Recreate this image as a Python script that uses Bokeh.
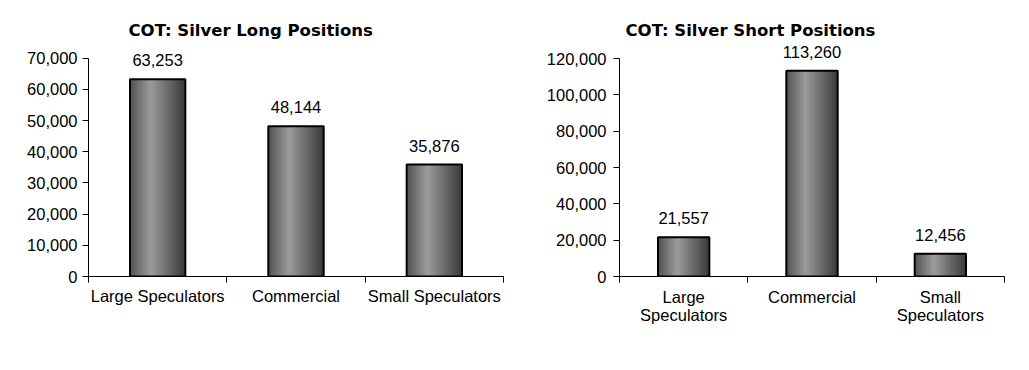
from bokeh.plotting import figure
from bokeh.layouts import row
from bokeh.models import (ColumnDataSource, Range1d, FixedTicker, SingleIntervalTicker,
                          NumeralTickFormatter, LinearAxis, LabelSet, Label)
from bokeh.core.properties import value
from bokeh.embed import file_html
from bokeh.resources import INLINE

# ---- data ----
long_categories = ["Large Speculators", "Commercial", "Small Speculators"]
long_values = [63253, 48144, 35876]

short_categories = ["Large\nSpeculators", "Commercial", "Small\nSpeculators"]
short_values = [21557, 113260, 12456]

long_title = "COT: Silver Long Positions"
short_title = "COT: Silver Short  Positions"

FONT = "Liberation Sans"
FS = "16.5px"
BAR_W = 0.4
N_STRIPS = 40

# layout (pixels inside each figure)
H = 350
FRAME_TOP = 20       # top of drawing frame (leaves room for title / labels)
AXIS_TOP = 58        # pixel row of the top y tick
TITLE_Y = 30


def shade(t):
    # horizontal cylinder-like gradient: dark edges, light left-of-centre
    pts = [(0.0, 0x50), (0.38, 0x9c), (1.0, 0x3a)]
    for (t0, c0), (t1, c1) in zip(pts[:-1], pts[1:]):
        if t <= t1:
            c = c0 + (c1 - c0) * (t - t0) / (t1 - t0)
            break
    c = int(round(c))
    return "#%02x%02x%02x" % (c, c, c)


def make_chart(cats, vals, title, ymax, step, width, border_left, border_right,
               axis_bottom, title_offset, ylabel_standoff, xlabel_standoff):
    n = len(cats)
    per_px = ymax / (axis_bottom - AXIS_TOP)
    yend = per_px * (axis_bottom - FRAME_TOP)
    p = figure(width=width, height=H, output_backend="svg", toolbar_location=None,
               x_range=Range1d(0, n), y_range=Range1d(0, yend),
               min_border_left=border_left, min_border_right=border_right,
               min_border_top=FRAME_TOP, min_border_bottom=H - axis_bottom,
               x_axis_type=None, y_axis_type=None)
    p.outline_line_color = None
    p.grid.visible = False
    p.background_fill_color = "white"
    p.border_fill_color = "white"

    centers = [i + 0.5 for i in range(n)]

    # gradient strips
    xs, tops, cols = [], [], []
    sw = BAR_W / N_STRIPS
    for c, v in zip(centers, vals):
        for k in range(N_STRIPS):
            t = (k + 0.5) / N_STRIPS
            xs.append(c - BAR_W / 2 + (k + 0.5) * sw)
            tops.append(v)
            cols.append(shade(t))
    p.vbar(x=xs, top=tops, bottom=0, width=sw * 1.6, fill_color=cols, line_color=None)
    # outline
    p.vbar(x=centers, top=vals, bottom=0, width=BAR_W, fill_alpha=0,
           line_color="black", line_width=2)

    # value labels
    src = ColumnDataSource(dict(x=centers, y=vals, t=[f"{v:,}" for v in vals]))
    p.add_layout(LabelSet(x="x", y="y", text="t", source=src, text_align="center",
                          text_baseline="bottom", y_offset=13, text_font=value(FONT),
                          text_font_size=value(FS), text_color="black"))

    # x axis
    xa = LinearAxis(ticker=FixedTicker(ticks=centers, minor_ticks=list(range(n + 1))))
    xa.major_label_overrides = {c: lab for c, lab in zip(centers, cats)}
    xa.major_tick_out = 0
    xa.major_tick_in = 0
    xa.minor_tick_out = 6
    xa.minor_tick_in = 0
    xa.minor_tick_line_color = "black"
    xa.axis_line_color = "black"
    xa.major_label_text_font = FONT
    xa.major_label_text_font_size = FS
    xa.major_label_text_color = "black"
    xa.major_label_text_line_height = 1.0
    xa.major_label_standoff = xlabel_standoff
    p.add_layout(xa, "below")

    # y axis (drawn only up to the last tick)
    ya = LinearAxis(ticker=SingleIntervalTicker(interval=step, num_minor_ticks=0),
                    formatter=NumeralTickFormatter(format="0,0"), bounds=(0, ymax))
    ya.major_tick_out = 6
    ya.major_tick_in = 0
    ya.minor_tick_out = 0
    ya.axis_line_color = "black"
    ya.major_tick_line_color = "black"
    ya.major_label_text_font = FONT
    ya.major_label_text_font_size = FS
    ya.major_label_text_color = "black"
    ya.major_label_standoff = ylabel_standoff
    p.add_layout(ya, "left")

    # title
    frame_w = width - border_left - border_right
    p.add_layout(Label(x=title_offset / frame_w * n, y=per_px * (axis_bottom - TITLE_Y),
                       text=title, text_font="DejaVu Sans", text_font_style="bold",
                       text_font_size="16.5px", text_color="black",
                       text_baseline="middle", text_align="left"))
    return p


p1 = make_chart(long_categories, long_values, long_title, 70000, 10000,
                518, 88, 15, 278, 40, 5, 4)
p2 = make_chart(short_categories, short_values, short_title, 120000, 20000,
                511, 101, 25, 276, 6, 7, 5)

layout = row(p1, p2)
open("out.html", "w").write(file_html(layout, INLINE))
